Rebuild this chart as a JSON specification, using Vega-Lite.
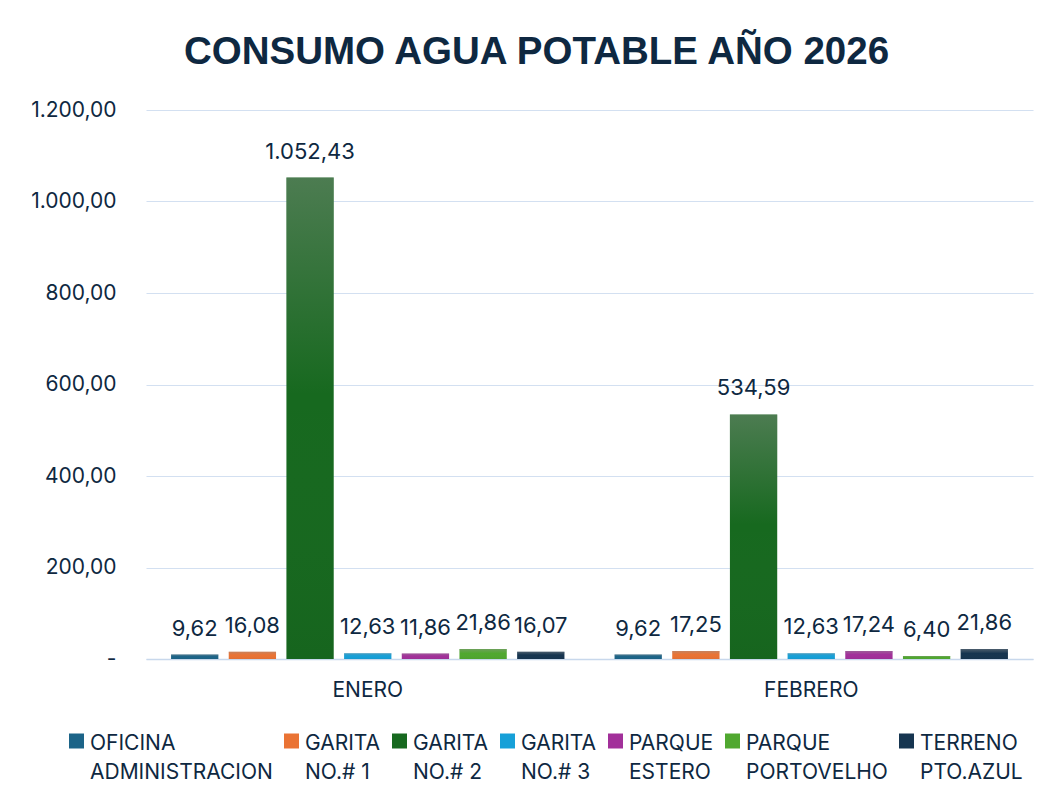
{
  "$schema": "https://vega.github.io/schema/vega-lite/v6.json",
  "width": 887,
  "height": 549,
  "padding": {"left": 30, "top": 32, "right": 26, "bottom": 10},
  "background": "white",
  "config": {
    "locale": {"number": {"decimal": ",", "thousands": ".", "grouping": [3], "currency": ["", " €"]}},
    "font": "Inter",
    "view": {"stroke": null}
  },
  "title": {
    "text": "CONSUMO AGUA POTABLE AÑO 2026",
    "font": "Liberation Sans",
    "fontSize": 38.5,
    "fontWeight": "bold",
    "color": "#0E2841",
    "anchor": "middle",
    "dx": -53,
    "offset": 27
  },
  "data": {
    "values": [
      {"mes": "ENERO", "serie": "OFICINA ADMINISTRACION", "valor": 9.62},
      {"mes": "ENERO", "serie": "GARITA NO.# 1", "valor": 16.08},
      {"mes": "ENERO", "serie": "GARITA NO.# 2", "valor": 1052.43},
      {"mes": "ENERO", "serie": "GARITA NO.# 3", "valor": 12.63},
      {"mes": "ENERO", "serie": "PARQUE ESTERO", "valor": 11.86},
      {"mes": "ENERO", "serie": "PARQUE PORTOVELHO", "valor": 21.86},
      {"mes": "ENERO", "serie": "TERRENO PTO.AZUL", "valor": 16.07},
      {"mes": "FEBRERO", "serie": "OFICINA ADMINISTRACION", "valor": 9.62},
      {"mes": "FEBRERO", "serie": "GARITA NO.# 1", "valor": 17.25},
      {"mes": "FEBRERO", "serie": "GARITA NO.# 2", "valor": 534.59},
      {"mes": "FEBRERO", "serie": "GARITA NO.# 3", "valor": 12.63},
      {"mes": "FEBRERO", "serie": "PARQUE ESTERO", "valor": 17.24},
      {"mes": "FEBRERO", "serie": "PARQUE PORTOVELHO", "valor": 6.40},
      {"mes": "FEBRERO", "serie": "TERRENO PTO.AZUL", "valor": 21.86}
    ]
  },
  "encoding": {
    "x": {
      "field": "mes", "type": "nominal", "sort": ["ENERO", "FEBRERO"],
      "scale": {"paddingInner": 0.1, "paddingOuter": 0.05},
      "axis": {
        "title": null, "labelAngle": 0, "labelFontSize": 21, "labelColor": "#0E2841",
        "labelPadding": 20, "ticks": false, "domainColor": "#C8D8EC", "domainWidth": 1.5
      }
    },
    "xOffset": {
      "field": "serie", "type": "nominal",
      "sort": ["OFICINA ADMINISTRACION", "GARITA NO.# 1", "GARITA NO.# 2", "GARITA NO.# 3", "PARQUE ESTERO", "PARQUE PORTOVELHO", "TERRENO PTO.AZUL"],
      "scale": {"paddingInner": 0.18, "paddingOuter": 0.05}
    },
    "y": {
      "field": "valor", "type": "quantitative",
      "scale": {"domain": [0, 1200]},
      "axis": {
        "title": null, "values": [0, 200, 400, 600, 800, 1000, 1200],
        "labelExpr": "datum.value == 0 ? '-' : format(datum.value, ',.2f')",
        "labelFontSize": 21, "labelColor": "#0E2841", "labelPadding": 30,
        "ticks": false, "domain": false, "gridColor": "#D3E0F1", "gridWidth": 1.2
      }
    }
  },
  "layer": [
    {
      "mark": {"type": "bar"},
      "encoding": {
        "color": {
          "field": "serie", "type": "nominal",
          "sort": ["OFICINA ADMINISTRACION", "GARITA NO.# 1", "GARITA NO.# 2", "GARITA NO.# 3", "PARQUE ESTERO", "PARQUE PORTOVELHO", "TERRENO PTO.AZUL"],
          "scale": {"range": ["#1C6488", "#EA7334", "#17691F", "#16A0D8", "#A2309A", "#50A830", "#163550"]},
          "legend": {
            "title": null, "orient": "none", "direction": "horizontal",
            "legendX": -80, "legendY": 612,
            "symbolType": "M-1,0.1H1V2.1H-1Z", "symbolSize": 225, "symbolStrokeWidth": 0,
            "labelFontSize": 21, "labelColor": "#0E2841", "labelLimit": 400,
            "labelOffset": 3, "columnPadding": 8, "labelBaseline": "top",
            "labelExpr": "[substring(datum.label, 0, indexof(datum.label, ' ')), substring(datum.label, indexof(datum.label, ' ') + 1)]",
            "encode": {"labels": {"update": {"lineHeight": {"value": 29}}}}
          }
        }
      }
    },
    {
      "mark": {
        "type": "bar",
        "color": {"gradient": "linear", "x1": 0, "y1": 0, "x2": 0, "y2": 1, "stops": [
          {"offset": 0, "color": "rgba(150,150,150,0.42)"},
          {"offset": 0.45, "color": "rgba(150,150,150,0)"},
          {"offset": 1, "color": "rgba(0,0,0,0.04)"}
        ]}
      },
      "encoding": {"detail": {"field": "serie"}}
    },
    {
      "mark": {"type": "text", "baseline": "alphabetic", "dy": -19, "fontSize": 22, "color": "#0E2841"},
      "encoding": {
        "text": {"field": "valor", "type": "quantitative", "format": ",.2f"},
        "detail": {"field": "serie"}
      }
    }
  ]
}
